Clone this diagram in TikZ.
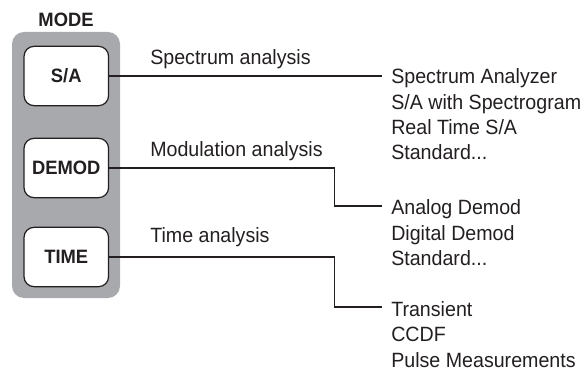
\documentclass[tikz,border=0pt]{standalone}
\usepackage{fontspec}
\setmainfont{Liberation Sans}[FakeStretch=0.95]
\usetikzlibrary{positioning}
\definecolor{panelGray}{HTML}{A7A9AC}
\definecolor{inkDark}{HTML}{231F20}

\begin{document}
\begin{tikzpicture}[x=0.75pt, y=-0.75pt,
     panel/.style={fill=panelGray, rounded corners=9pt, minimum width=81pt,
                   minimum height=199.5pt, inner sep=0pt},
     key/.style={draw=inkDark, line width=0.9pt, fill=white, rounded corners=7.5pt,
                 minimum width=63.4pt, minimum height=44.5pt, inner sep=0pt,
                 font=\fontsize{14.5}{16}\selectfont\bfseries, text=inkDark},
     head/.style={font=\fontsize{14.5}{16}\selectfont\bfseries, text=inkDark, inner sep=0pt},
     lbl/.style={font=\fontsize{15.5}{19}\selectfont, text=inkDark, inner sep=0pt, anchor=base west},
     menu/.style={lbl, align=left},
     conn/.style={draw=inkDark, line width=0.8pt}]
  \useasboundingbox (0,0) rectangle (584,370);
  \node[panel] (mode) at (66,165) {};
  \node[head, above=3.75pt of mode] (modetitle) {MODE};
  \node[key] (sa) at (66.3,76) {S/A};
  \node[key] (dm) at (66.3,168) {DEMOD};
  \node[key] (tm) at (66.3,257) {TIME};
  \node[lbl] (saLbl) at (150,65) {Spectrum analysis};
  \node[lbl] (dmLbl) at (150,157) {Modulation analysis};
  \node[lbl] (tmLbl) at (150,242) {Time analysis};
  \node[menu] (saList) at (391,160) {Spectrum Analyzer\\S/A with Spectrogram\\Real Time S/A\\Standard...};
  \node[menu] (dmList) at (391,265.6) {Analog Demod\\Digital Demod\\Standard...};
  \node[menu] (tmList) at (391,367) {Transient\\CCDF\\Pulse Measurements};
  \coordinate (saEnd) at (382,76);
  \coordinate (dmEnd) at (382,206);
  \coordinate (tmEnd) at (382,307);
  \draw[conn] (sa.east) -- (saEnd);
  \draw[conn] (dm.east) -- ++(225,0) |- (dmEnd);
  \draw[conn] (tm.east) -- ++(225,0) |- (tmEnd);
\end{tikzpicture}
\end{document}
